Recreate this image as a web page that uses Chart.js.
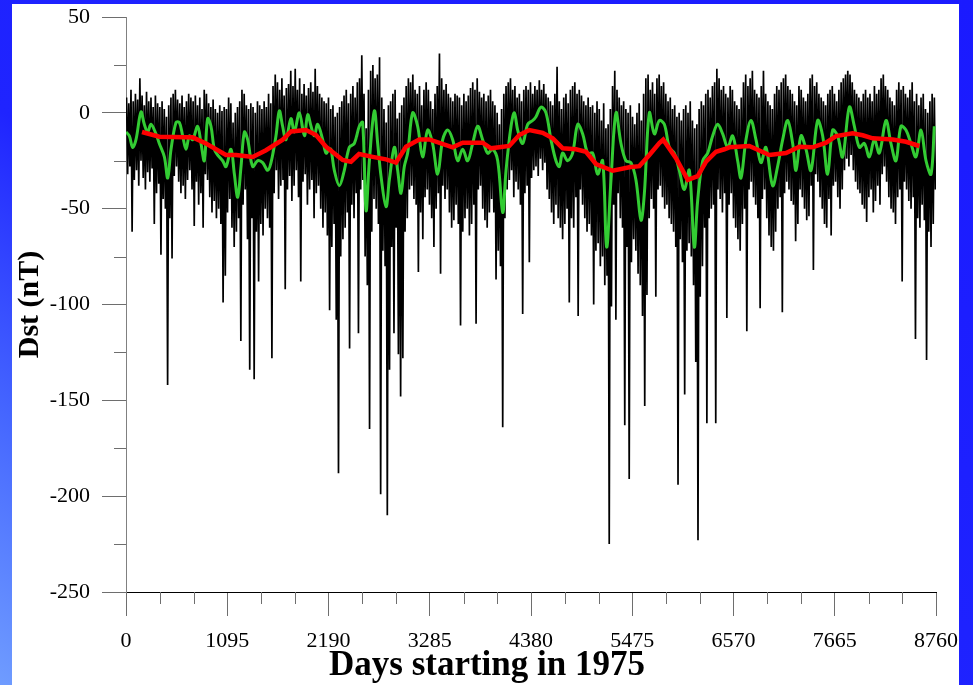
<!DOCTYPE html>
<html>
<head>
<meta charset="utf-8">
<title>Dst 1975-1998</title>
<script src="https://cdn.jsdelivr.net/npm/chart.js@4.4.1/dist/chart.umd.min.js"></script>
<style>
  html, body { margin: 0; padding: 0; width: 973px; height: 685px; overflow: hidden; }
  body { position: relative; background: linear-gradient(to top right, #6f9cff 0%, #4566ff 20%, #1f24ff 42%, #1a1aff 100%); }
  #panel { position: absolute; left: 12px; top: 4px; width: 947px; height: 681px; background: #fff; }
  #chart { position: absolute; left: 0; top: 0; }
  #xtitle { position: absolute; left: 287px; width: 400px; top: 645px; text-align: center;
            font: bold 35px 'Liberation Serif', 'Times New Roman', serif; color: #000; line-height: 38px; }
</style>
</head>
<body>
<div id="panel"></div>
<canvas id="chart" width="973" height="685"></canvas>
<div id="xtitle">Days starting in 1975</div>
<script>
// ---- data ----
// daily Dst, summarised per 24-day bin as the upper and lower excursion (nT)
const BIN_DAYS = 24;
const blackHigh = [
  8,5,12,6,10,7,18,9,4,11,6,8,3,9,5,
  3,6,2,-2,4,8,10,12,7,5,9,3,6,10,8,
  6,9,4,8,2,12,10,5,3,7,2,0,4,1,3,
  2,8,5,-5,0,3,6,12,10,4,2,5,3,0,6,
  4,2,6,3,10,5,14,20,16,12,18,9,13,15,22,
  14,23,12,18,10,15,9,13,16,11,23,14,10,8,6,
  5,8,2,4,-2,0,3,6,9,12,5,10,14,8,16,
  18,30,10,-8,12,22,25,18,20,29,8,2,-5,4,6,
  10,12,-3,0,4,8,14,18,16,20,12,10,14,4,12,
  16,12,6,2,10,14,31,18,12,15,10,8,6,10,9,
  8,4,10,6,9,13,16,12,18,11,8,10,6,9,12,
  6,4,0,-6,2,10,14,16,18,12,14,8,10,6,12,
  14,12,16,10,14,12,17,12,15,10,8,6,4,10,24,
  6,2,8,10,5,12,14,16,10,12,9,6,4,8,3,
  4,0,6,2,-4,5,-8,-6,2,14,22,12,8,4,6,
  2,0,4,-2,-6,0,5,-4,10,18,20,12,16,10,18,
  20,14,16,10,6,8,2,4,-2,0,-4,2,4,0,6,
  -4,-8,-6,2,6,4,10,12,8,14,16,23,18,12,14,
  10,8,14,12,6,4,2,8,16,20,14,18,22,12,10,
  8,14,22,10,6,4,2,10,14,12,16,18,20,14,12,
  10,6,4,14,12,8,6,10,18,20,14,16,10,8,6,
  4,10,12,14,10,6,12,16,18,20,22,20,16,12,10,
  8,6,10,12,8,10,6,14,10,12,18,20,14,12,8,
  6,4,12,16,12,14,10,8,12,16,6,10,4,8,10,
  2,0,6,10,8
];
const blackLow = [
  -32,-28,-62,-35,-30,-38,-25,-34,-40,-31,-36,-29,-58,-42,-37,
  -74,-45,-50,-142,-55,-76,-33,-28,-36,-42,-38,-45,-35,-30,-40,
  -59,-36,-48,-42,-60,-32,-35,-44,-52,-46,-55,-50,-58,-99,-85,
  -52,-45,-60,-70,-62,-55,-119,-48,-40,-66,-134,-55,-139,-62,-88,
  -58,-64,-50,-55,-60,-128,-42,-30,-45,-38,-35,-92,-40,-33,-46,
  -38,-30,-44,-88,-36,-32,-48,-40,-35,-55,-42,-38,-50,-60,-52,
  -64,-103,-70,-58,-108,-188,-75,-66,-60,-52,-123,-48,-55,-42,-115,
  -40,-35,-75,-90,-165,-62,-45,-50,-58,-199,-72,-80,-210,-134,-70,
  -115,-60,-126,-148,-128,-62,-55,-40,-38,-45,-48,-83,-52,-66,-44,
  -40,-48,-55,-70,-50,-42,-84,-38,-45,-40,-52,-60,-56,-48,-58,
  -111,-62,-55,-50,-64,-58,-48,-110,-40,-38,-50,-56,-60,-52,-45,
  -52,-87,-72,-80,-164,-55,-40,-35,-30,-44,-36,-40,-48,-105,-42,
  -38,-78,-34,-30,-28,-33,-24,-30,-26,-40,-45,-52,-58,-48,-55,
  -60,-66,-58,-50,-99,-55,-60,-44,-106,-40,-48,-55,-62,-58,-64,
  -100,-72,-68,-80,-75,-90,-85,-225,-101,-48,-108,-42,-55,-60,-163,
  -70,-191,-78,-66,-72,-84,-90,-106,-153,-95,-55,-45,-50,-96,-40,
  -38,-44,-50,-48,-55,-58,-62,-70,-194,-66,-78,-147,-72,-68,-75,
  -90,-130,-223,-96,-80,-60,-162,-55,-50,-48,-162,-40,-45,-52,-42,
  -107,-48,-42,-55,-60,-66,-72,-58,-50,-114,-40,-36,-44,-48,-55,
  -102,-45,-40,-55,-64,-70,-72,-62,-50,-44,-104,-42,-36,-40,-46,
  -48,-67,-58,-40,-44,-50,-56,-54,-38,-82,-32,-36,-44,-50,-58,
  -60,-45,-64,-38,-36,-44,-50,-40,-30,-24,-28,-22,-30,-36,-40,
  -42,-48,-50,-57,-44,-40,-52,-46,-38,-48,-32,-28,-36,-44,-50,
  -52,-58,-44,-40,-88,-36,-40,-46,-50,-44,-118,-55,-60,-48,-56,
  -129,-62,-70,-58,-40
];

// 27-day running mean (green)
const greenDays = [
  0,36,72,108,162,198,234,270,324,360,415,451,487,541,577,613,649,685,721,775,
  811,847,883,919,955,991,1045,1082,1136,1172,1208,1244,1280,1316,1370,1424,1478,1532,1568,1622,
  1658,1694,1730,1784,1820,1875,1929,1965,2001,2037,2073,2127,2163,2199,2217,2253,2307,2361,2415,2469,
  2523,2559,2596,2632,2686,2722,2758,2812,2848,2902,2938,2974,3010,3046,3100,3154,3208,3262,3316,3371,
  3425,3479,3533,3587,3641,3695,3749,3803,3857,3911,3965,4020,4074,4110,4164,4200,4236,4290,4344,4398,
  4434,4488,4542,4596,4650,4686,4722,4776,4830,4885,4939,4993,5047,5101,5155,5198,5245,5299,5353,5407,
  5461,5515,5570,5606,5660,5714,5768,5822,5876,5930,5984,6038,6092,6146,6182,6237,6291,6345,6399,6453,
  6507,6561,6615,6651,6705,6759,6813,6867,6921,6993,7047,7102,7156,7210,7246,7300,7354,7408,7480,7534,
  7588,7642,7696,7750,7823,7877,7931,7985,8039,8093,8147,8219,8273,8327,8381,8435,8489,8543,8598,8652,
  8706,8742
];
const greenValues = [
  -10,-12,-18,-14,0.5,-6,-10,-6,-11,-16,-23,-34,-19,-5,-5,-12,-19,-12,-14,-7,
  -16,-25,-3,-7,-19,-22,-25,-28,-19,-32,-44,-28,-10,-14,-28,-25,-26,-30,-26,-12,
  1,-7,-14,-3,-10,0,-12,-1,-7,-12,-6,-14,-21,-19,-19,-30,-38,-30,-18,-16,
  -7,-5,-51,-25,1,-16,-33,-49,-35,-18,-30,-42,-28,-21,0,-7,-23,-9,-16,-32,
  -14,-9,-14,-25,-19,-25,-16,-7,-14,-21,-19,-25,-52,-30,-7,0,-9,-16,-6,-4,
  -2,3,0,-14,-25,-28,-21,-25,-21,-6,-11,-21,-21,-32,-25,-70,-35,0,-16,-25,
  -26,-35,-56,-42,0,-11,-4,-6,-18,-21,-30,-40,-30,-70,-46,-25,-21,-12,-6,-11,
  -18,-12,-25,-34,-14,-4,-14,-26,-18,-38,-28,-14,-4,-16,-30,-12,-19,-30,-4,-12,
  -32,-9,-12,-23,3,-7,-18,-16,-23,-14,-21,-4,-16,-25,-7,-9,-16,-23,-9,-25,
  -32,-7
];

// one-year running mean (red)
const redDays = [
  173,360,649,721,865,1081,1190,1370,1514,1695,1785,1947,2055,2163,2343,2433,2520,2668,2812,2920,
  3028,3172,3280,3533,3641,3857,3947,4145,4253,4362,4506,4615,4723,4867,4975,5083,5263,5443,5552,5660,
  5768,5810,5948,6075,6183,6273,6381,6471,6525,6741,6958,7138,7282,7426,7571,7679,7859,7967,8075,8292,
  8436,8580
];
const redValues = [
  -10,-12.5,-12.8,-12.8,-16,-22,-22,-23,-19.5,-14,-9.7,-9,-11.6,-17.7,-24.6,-25.5,-21.5,-23,-24.3,-26,
  -17.7,-13.9,-13.9,-18,-15.6,-15.6,-18.5,-17.3,-11.6,-9,-10.4,-13.3,-18.5,-19,-20.3,-26.7,-30.2,-28.4,-27.8,-22,
  -15.8,-14,-23.7,-35,-33,-25.5,-20.3,-19,-18,-17.3,-22,-21,-17.7,-18,-15.6,-12.1,-10.7,-11.7,-13.3,-13.9,
  -15.1,-17.3
];

// axes
const xMajorTicks = [0, 1095, 2190, 3285, 4380, 5475, 6570, 7665, 8760];
const xMinorTicks = [365, 730, 1460, 1825, 2555, 2920, 3650, 4015, 4745, 5110, 5840, 6205, 6935, 7300, 8030, 8395];
const yMajorTicks = [-250, -200, -150, -100, -50, 0, 50];
const yMinorTicks = [-225, -175, -125, -75, -25, 25];

// ---- build points ----
const dailyPoints = [];
blackHigh.forEach((hi, i) => {
  dailyPoints.push({ x: i * BIN_DAYS + 6, y: hi });
  dailyPoints.push({ x: i * BIN_DAYS + 18, y: blackLow[i] });
});
const greenPoints = greenDays.map((d, i) => ({ x: d, y: greenValues[i] }));
const redPoints = redDays.map((d, i) => ({ x: d, y: redValues[i] }));

const SERIF = "'Liberation Serif', 'Times New Roman', serif";
const TICK_GREY = '#6e6e6e';

// minor tick marks are half as long as the labelled ones
const minorTicks = {
  id: 'minorTicks',
  afterDraw(chart) {
    const { ctx, scales: { x, y } } = chart;
    ctx.save();
    ctx.strokeStyle = TICK_GREY;
    ctx.lineWidth = 1;
    ctx.beginPath();
    xMinorTicks.forEach(v => {
      const px = Math.round(x.getPixelForValue(v)) + 0.5;
      ctx.moveTo(px, x.top);
      ctx.lineTo(px, x.top + 12);
    });
    yMinorTicks.forEach(v => {
      const py = Math.round(y.getPixelForValue(v)) + 0.5;
      ctx.moveTo(y.right - 12, py);
      ctx.lineTo(y.right, py);
    });
    ctx.stroke();
    ctx.restore();
  }
};

new Chart(document.getElementById('chart'), {
  type: 'line',
  data: {
    datasets: [
      { label: 'Annual mean', data: redPoints, borderColor: '#ff0000', borderWidth: 4.5, pointRadius: 0, tension: 0 },
      { label: '27-day mean', data: greenPoints, borderColor: '#33cc33', borderWidth: 3, pointRadius: 0, tension: 0.35 },
      { label: 'Daily Dst', data: dailyPoints, borderColor: '#000000', borderWidth: 1.7, pointRadius: 0, tension: 0 }
    ]
  },
  options: {
    responsive: false,
    animation: false,
    events: [],
    layout: { padding: { top: 17, right: 37, left: 0, bottom: 0 } },
    plugins: { legend: { display: false }, tooltip: { enabled: false } },
    scales: {
      x: {
        type: 'linear',
        min: 0,
        max: 8760,
        afterFit: s => { s.height = 93; s.paddingLeft = 0; s.paddingRight = 0; },
        afterBuildTicks: s => { s.ticks = xMajorTicks.concat(xMinorTicks).sort((a, b) => a - b).map(v => ({ value: v })); },
        ticks: {
          autoSkip: false, maxRotation: 0, padding: 12, color: '#000',
          font: { family: SERIF, size: 22 },
          callback: v => xMajorTicks.includes(v) ? String(v) : ''
        },
        grid: {
          drawOnChartArea: false, drawTicks: true, tickLength: 24,
          tickColor: c => (c.tick && xMajorTicks.includes(c.tick.value)) ? TICK_GREY : 'rgba(0,0,0,0)'
        },
        border: { display: true, color: '#000', width: 1 }
      },
      y: {
        min: -250,
        max: 50,
        afterFit: s => { s.width = 126; s.paddingTop = 0; s.paddingBottom = 0; },
        afterBuildTicks: s => { s.ticks = yMajorTicks.concat(yMinorTicks).sort((a, b) => a - b).map(v => ({ value: v })); },
        ticks: {
          padding: 12, color: '#000',
          font: { family: SERIF, size: 22 },
          callback: v => yMajorTicks.includes(v) ? String(v) : ''
        },
        grid: {
          drawOnChartArea: false, drawTicks: true, tickLength: 24,
          tickColor: c => (c.tick && yMajorTicks.includes(c.tick.value)) ? TICK_GREY : 'rgba(0,0,0,0)'
        },
        border: { display: true, color: '#808080', width: 1 },
        title: {
          display: true, text: 'Dst (nT)', color: '#000',
          font: { family: SERIF, size: 30, weight: 'bold' },
          padding: { top: 12, bottom: 0 }
        }
      }
    }
  },
  plugins: [minorTicks]
});
</script>
</body>
</html>
